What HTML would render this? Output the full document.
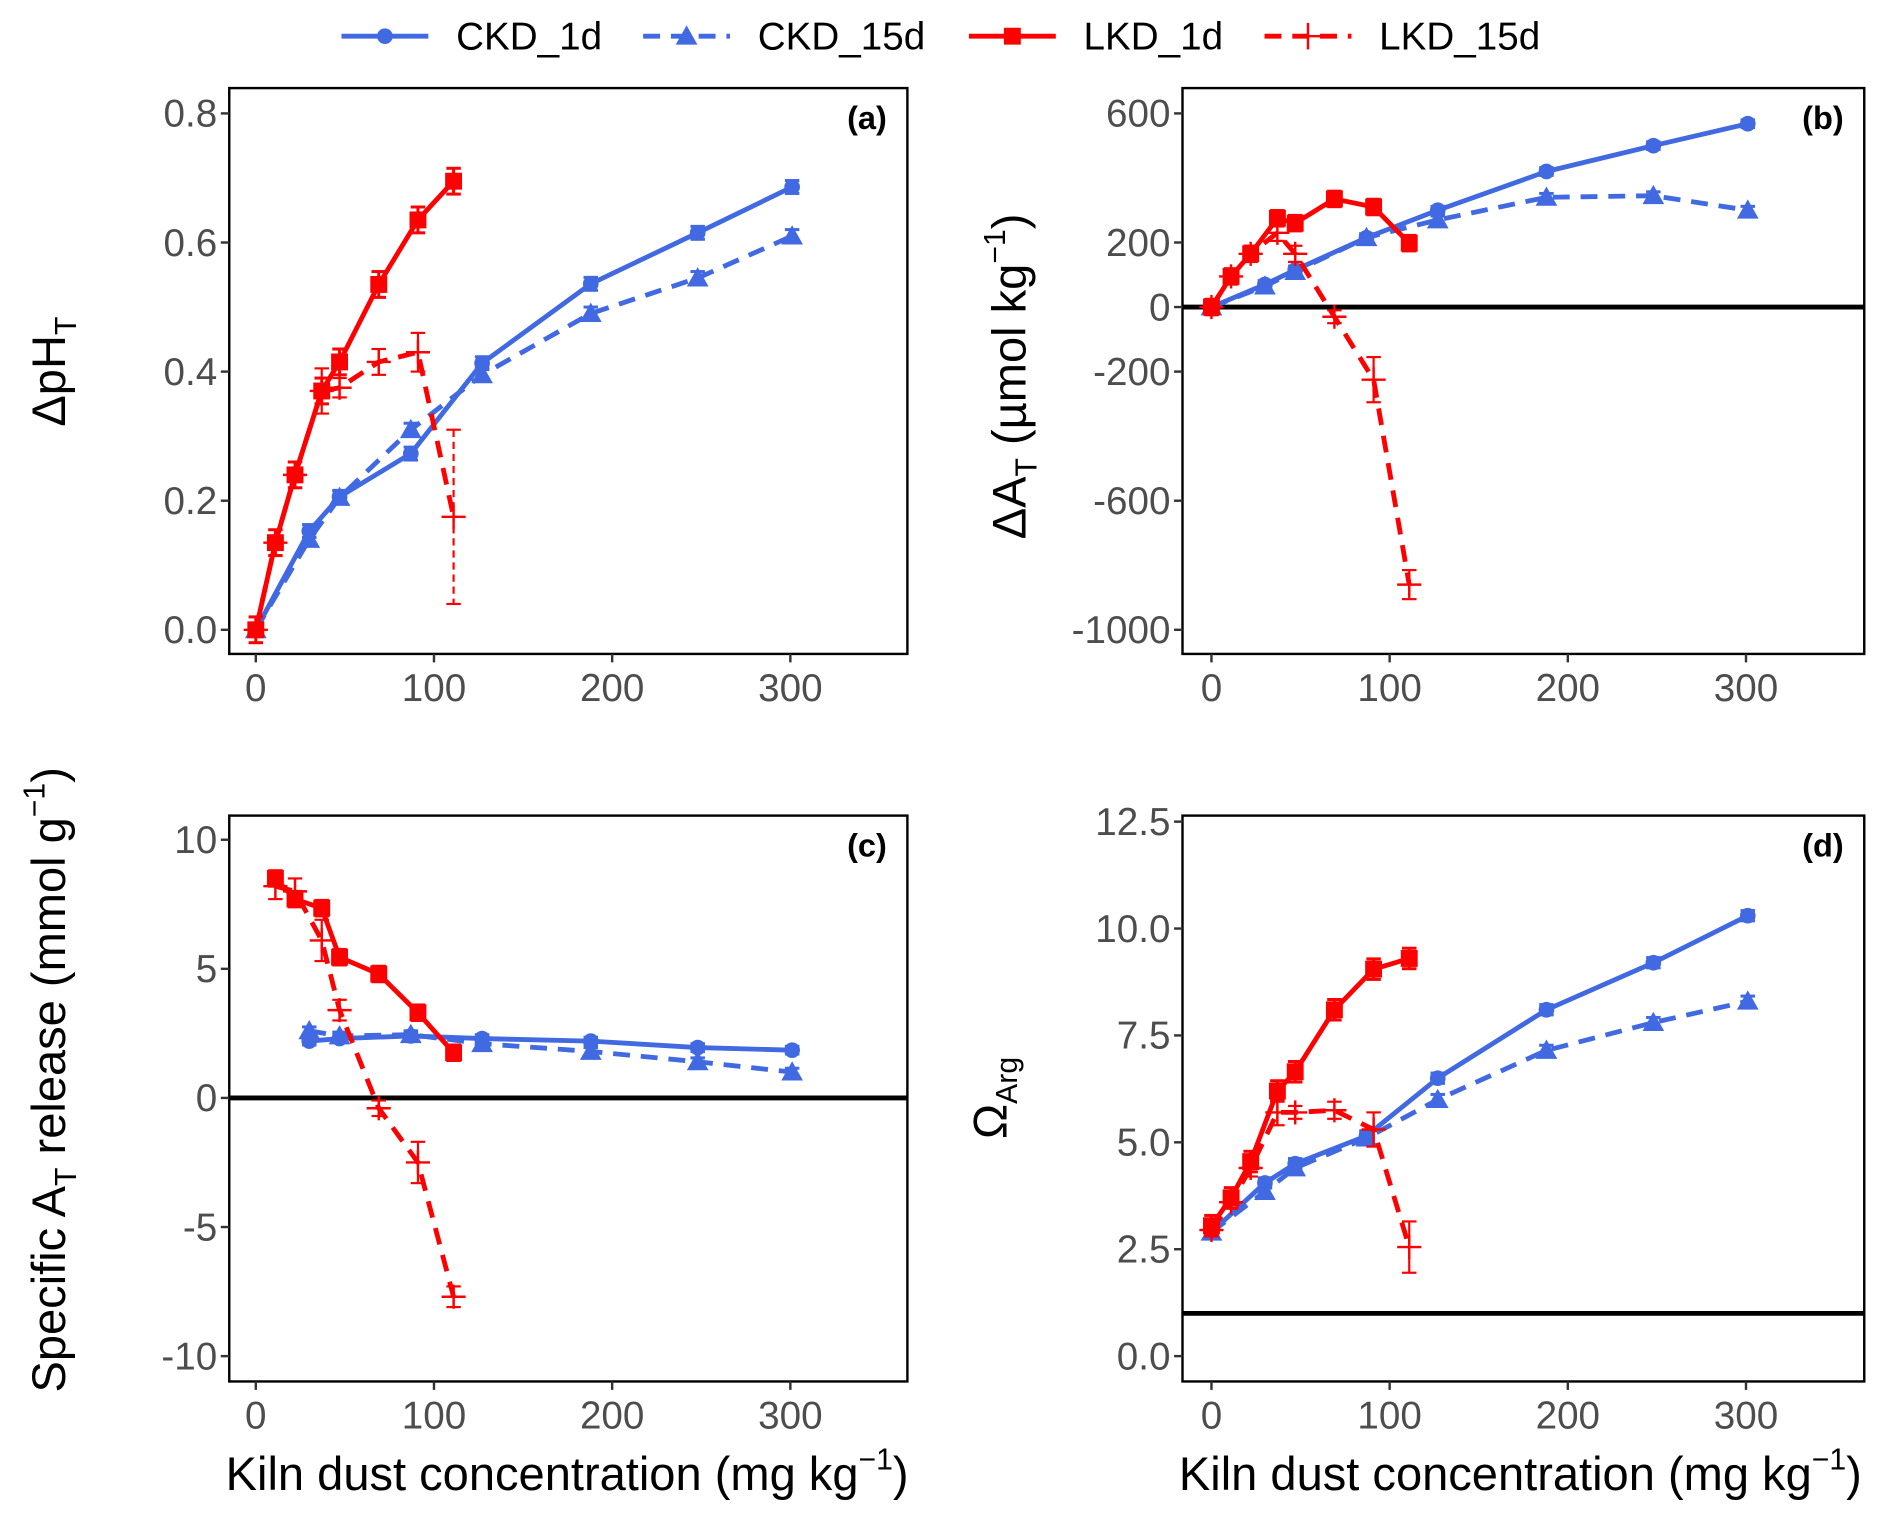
<!DOCTYPE html>
<html><head><meta charset="utf-8"><style>
html,body{margin:0;padding:0;background:#fff;}
svg{display:block;}
text{font-family:"Liberation Sans",sans-serif;}
</style></head><body>
<svg id="chart" width="1892" height="1519" viewBox="0 0 1568 1259" preserveAspectRatio="none" xmlns="http://www.w3.org/2000/svg">
<g id="legend">
  <g>
    <line x1="283" y1="30" x2="355" y2="30" stroke="#4169E1" stroke-width="4"/>
    <circle cx="319" cy="30" r="6.5" fill="#4169E1"/>
    <text x="378" y="41" font-size="32" fill="#000">CKD_1d</text>
  </g>
  <g>
    <line x1="533" y1="30" x2="605" y2="30" stroke="#4169E1" stroke-width="4" stroke-dasharray="14,9"/>
    <polygon points="569,21 578,37 560,37" fill="#4169E1"/>
    <text x="628" y="41" font-size="32" fill="#000">CKD_15d</text>
  </g>
  <g>
    <line x1="803" y1="30" x2="875" y2="30" stroke="#FF0000" stroke-width="4"/>
    <rect x="832" y="23" width="14" height="14" fill="#FF0000"/>
    <text x="898" y="41" font-size="32" fill="#000">LKD_1d</text>
  </g>
  <g>
    <line x1="1048" y1="30" x2="1120" y2="30" stroke="#FF0000" stroke-width="4" stroke-dasharray="14,9"/>
    <line x1="1084" y1="19" x2="1084" y2="41" stroke="#FF0000" stroke-width="2"/>
    <line x1="1073" y1="30" x2="1095" y2="30" stroke="#FF0000" stroke-width="2"/>
    <text x="1143" y="41" font-size="32" fill="#000">LKD_15d</text>
  </g>
</g>
</svg>
<script>
const ckdX = [0, 30, 47, 87, 127, 188, 248, 301];
const lkdX = [0, 11, 22, 37, 47, 69, 91, 111];
const xTicks = [0, 100, 200, 300];

const phCkd1 = [0, 0.153, 0.206, 0.273, 0.413, 0.536, 0.615, 0.686];
const phCkd15 = [0, 0.14, 0.205, 0.31, 0.395, 0.49, 0.545, 0.61];
const phLkd1 = [0, 0.135, 0.24, 0.37, 0.415, 0.535, 0.635, 0.695];
const phLkd15 = [0, 0.135, 0.24, 0.37, 0.375, 0.415, 0.43, 0.175];
const phLkd15Err = [0.005, 0.01, 0.01, 0.035, 0.015, 0.02, 0.03, 0.135];
const phTicks = [0.0, 0.2, 0.4, 0.6, 0.8];
const phTickLabels = ["0.0", "0.2", "0.4", "0.6", "0.8"];

const atCkd1 = [0, 70, 115, 215, 300, 420, 500, 568];
const atCkd15 = [0, 65, 110, 215, 270, 340, 345, 300];
const atLkd1 = [0, 95, 165, 275, 260, 335, 310, 198];
const atLkd15 = [0, 95, 165, 230, 165, -30, -225, -860];
const atLkd15Err = [10, 15, 15, 25, 25, 20, 70, 45];
const atTicks = [600, 200, 0, -200, -600, -1000];
const atTickLabels = ["600", "200", "0", "-200", "-600", "-1000"];

const spCkdX = [30, 47, 87, 127, 188, 248, 301];
const spLkdX = [11, 22, 37, 47, 69, 91, 111];
const spCkd1 = [2.2, 2.3, 2.4, 2.3, 2.2, 1.95, 1.85];
const spCkd15 = [2.6, 2.4, 2.45, 2.1, 1.8, 1.4, 1.0];
const spLkd1 = [8.5, 7.7, 7.35, 5.45, 4.8, 3.3, 1.75];
const spLkd15 = [8.2, 8.0, 6.1, 3.4, -0.4, -2.5, -7.7];
const spLkd15Err = [0.5, 0.5, 0.8, 0.4, 0.3, 0.8, 0.4];
const spTicks = [10, 5, 0, -5, -10];
const spTickLabels = ["10", "5", "0", "-5", "-10"];

const omCkd1 = [2.9, 4.05, 4.5, 5.15, 6.5, 8.1, 9.2, 10.3];
const omCkd15 = [2.9, 3.85, 4.4, 5.1, 6.0, 7.15, 7.8, 8.3];
const omLkd1 = [3.05, 3.7, 4.55, 6.2, 6.65, 8.1, 9.05, 9.3];
const omLkd15 = [2.95, 3.6, 4.4, 5.7, 5.7, 5.75, 5.3, 2.55];
const omLkd15Err = [0.1, 0.15, 0.2, 0.3, 0.15, 0.2, 0.4, 0.6];
const omTicks = [12.5, 10.0, 7.5, 5.0, 2.5, 0.0];
const omTickLabels = ["12.5", "10.0", "7.5", "5.0", "2.5", "0.0"];

const NS = "http://www.w3.org/2000/svg";
const svg = document.getElementById("chart");
const BLUE = "#4169E1", RED = "#FF0000";

function mk(tag, attrs, parent) {
  const e = document.createElementNS(NS, tag);
  for (const k in attrs) e.setAttribute(k, attrs[k]);
  (parent || svg).appendChild(e);
  return e;
}

function panel(cfg) {
  const g = mk("g", {});
  
  
  const xs = v => cfg.x0px + (v - 0) * (cfg.x300px - cfg.x0px) / 300;
  const ys = v => cfg.yAp + (v - cfg.yA) * (cfg.yBp - cfg.yAp) / (cfg.yB - cfg.yA);
  const frame = mk("rect", {x: cfg.L, y: cfg.T, width: cfg.R - cfg.L, height: cfg.B - cfg.T, fill: "none", stroke: "#000", "stroke-width": 2}, g);
  
  
  xTicks.forEach(t => {
    mk("line", {x1: xs(t), x2: xs(t), y1: cfg.B, y2: cfg.B + 7, stroke: "#333", "stroke-width": 2}, g);
    const tx = mk("text", {x: xs(t), y: cfg.B + 39, "font-size": 32, fill: "#4d4d4d", "text-anchor": "middle"}, g);
    tx.textContent = t;
    
    
  });
  cfg.yTicks.forEach((t, i) => {
    mk("line", {x1: cfg.L - 7, x2: cfg.L, y1: ys(t), y2: ys(t), stroke: "#333", "stroke-width": 2}, g);
    const tx = mk("text", {x: cfg.L - 10, y: ys(t) + 11, "font-size": 32, fill: "#4d4d4d", "text-anchor": "end"}, g);
    tx.textContent = cfg.yLabels[i];
    
    
  });
  if (cfg.hline !== undefined) {
    const h = mk("line", {x1: cfg.L, x2: cfg.R, y1: ys(cfg.hline), y2: ys(cfg.hline), stroke: "#000", "stroke-width": 4}, g);
    
    
  }
  const lab = mk("text", {x: cfg.R - 17, y: cfg.T + 34, "font-size": 27, "font-weight": "bold", "text-anchor": "end"}, g);
  lab.textContent = cfg.label;
  
  

  cfg.series.forEach(s => {
    const sg = mk("g", {}, g);
    
    
    const pts = s.x.map((xv, i) => xs(xv) + "," + ys(s.y[i])).join(" ");
    const attrs = {points: pts, fill: "none", stroke: s.color, "stroke-width": 4, "stroke-linejoin": "round"};
    if (s.dash) attrs["stroke-dasharray"] = "14,9";
    mk("polyline", attrs, sg);
    s.x.forEach((xv, i) => {
      const px = xs(xv), py = ys(s.y[i]);
      const e = s.err ? s.err[i] : s.defErr;
      const y1 = ys(s.y[i] + e), y2 = ys(s.y[i] - e);
      const eb = mk("g", {}, sg);
      
      
      const ew = s.marker === "plus" ? 1.8 : 2.5;
      mk("line", {x1: px, x2: px, y1: y1, y2: y2, stroke: s.color, "stroke-width": ew, "stroke-dasharray": s.marker === "plus" && Math.abs(y2 - y1) > 60 ? "6,4" : "none"}, eb);
      mk("line", {x1: px - 6, x2: px + 6, y1: y1, y2: y1, stroke: s.color, "stroke-width": ew}, eb);
      mk("line", {x1: px - 6, x2: px + 6, y1: y2, y2: y2, stroke: s.color, "stroke-width": ew}, eb);
      let m;
      if (s.marker === "circle") m = mk("circle", {cx: px, cy: py, r: 6.5, fill: s.color}, sg);
      else if (s.marker === "tri") m = mk("polygon", {points: `${px},${py - 9} ${px + 9},${py + 7} ${px - 9},${py + 7}`, fill: s.color}, sg);
      else if (s.marker === "square") m = mk("rect", {x: px - 7, y: py - 7, width: 14, height: 14, fill: s.color}, sg);
      else {
        m = mk("g", {}, sg);
        mk("line", {x1: px - 10, x2: px + 10, y1: py, y2: py, stroke: s.color, "stroke-width": 2}, m);
        mk("line", {x1: px, x2: px, y1: py - 10, y2: py + 10, stroke: s.color, "stroke-width": 2}, m);
      }
      
      
    });
  });
}

function series4(cx, lx, c1, c15, l1, l15, l15err, e) {
  return [
    {name: "series-ckd-1d", x: cx, y: c1, color: BLUE, marker: "circle", defErr: e},
    {name: "series-ckd-15d", x: cx, y: c15, color: BLUE, marker: "tri", dash: true, defErr: e},
    {name: "series-lkd-1d", x: lx, y: l1, color: RED, marker: "square", defErr: e * 2},
    {name: "series-lkd-15d", x: lx, y: l15, color: RED, marker: "plus", dash: true, err: l15err}
  ];
}

panel({name: "panel-a", label: "(a)", L: 190, R: 752, T: 73, B: 542, x0px: 212, x300px: 655,
  yA: 0, yAp: 522, yB: 0.8, yBp: 94, yTicks: phTicks, yLabels: phTickLabels,
  series: series4(ckdX, lkdX, phCkd1, phCkd15, phLkd1, phLkd15, phLkd15Err, 0.01)});
panel({name: "panel-b", label: "(b)", L: 980, R: 1545, T: 73, B: 542, x0px: 1004, x300px: 1447,
  yA: -1000, yAp: 522, yB: 600, yBp: 94, yTicks: atTicks, yLabels: atTickLabels, hline: 0,
  series: series4(ckdX, lkdX, atCkd1, atCkd15, atLkd1, atLkd15, atLkd15Err, 12)});
panel({name: "panel-c", label: "(c)", L: 190, R: 752, T: 676, B: 1145, x0px: 212, x300px: 655,
  yA: -10, yAp: 1124, yB: 10, yBp: 696, yTicks: spTicks, yLabels: spTickLabels, hline: 0,
  series: series4(spCkdX, spLkdX, spCkd1, spCkd15, spLkd1, spLkd15, spLkd15Err, 0.15)});
panel({name: "panel-d", label: "(d)", L: 980, R: 1545, T: 676, B: 1145, x0px: 1004, x300px: 1447,
  yA: 0, yAp: 1124, yB: 12.5, yBp: 681, yTicks: omTicks, yLabels: omTickLabels, hline: 1,
  series: series4(ckdX, lkdX, omCkd1, omCkd15, omLkd1, omLkd15, omLkd15Err, 0.12)});

function title(html, x, y, rot, name) {
  const t = mk("text", {x: x, y: y, "font-size": 39, fill: "#000", "text-anchor": "middle", transform: rot ? `rotate(-90 ${x} ${y})` : ""});
  t.innerHTML = html;
  
  
}
title('ΔpH<tspan font-size="25" dy="9">T</tspan>', 54, 308, true, "y-axis-title-a");
title('ΔA<tspan font-size="25" dy="9">T</tspan><tspan dy="-9"> (µmol kg</tspan><tspan font-size="25" dy="-17">−1</tspan><tspan dy="17">)</tspan>', 850, 312, true, "y-axis-title-b");
title('Specific A<tspan font-size="25" dy="9">T</tspan><tspan dy="-9"> release (mmol g</tspan><tspan font-size="25" dy="-17">−1</tspan><tspan dy="17">)</tspan>', 54, 895, true, "y-axis-title-c");
title('Ω<tspan font-size="25" dy="9">Arg</tspan>', 834, 910, true, "y-axis-title-d");
title('Kiln dust concentration (mg kg<tspan font-size="25" dy="-17">−1</tspan><tspan dy="17">)</tspan>', 470, 1235, false, "x-axis-title-c");
title('Kiln dust concentration (mg kg<tspan font-size="25" dy="-17">−1</tspan><tspan dy="17">)</tspan>', 1260, 1235, false, "x-axis-title-d");
</script>
</body></html>
